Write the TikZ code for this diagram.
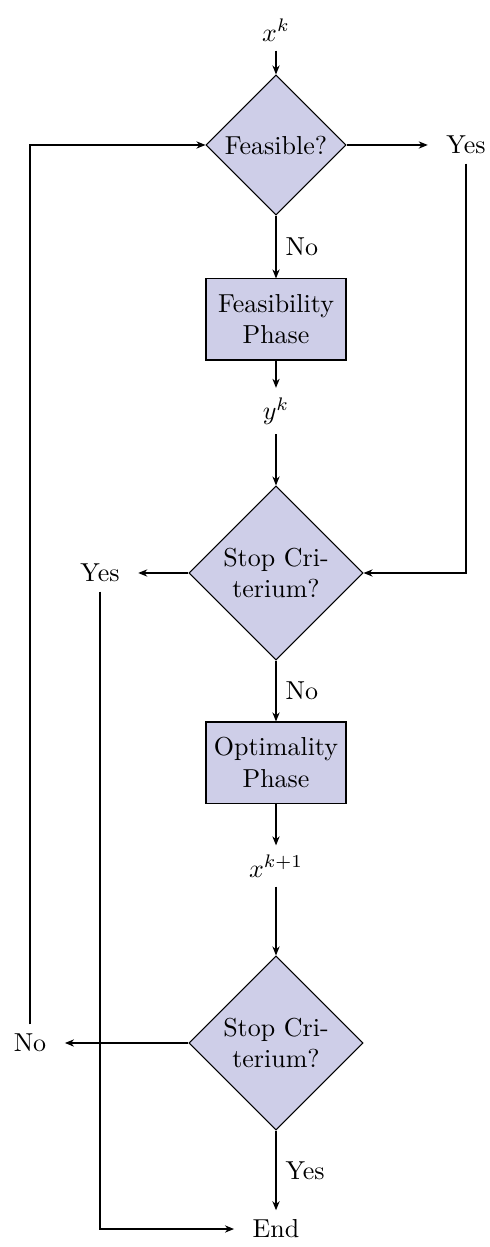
\documentclass[tikz,border=0pt]{standalone}
\usetikzlibrary{shapes.geometric,arrows.meta}
\definecolor{boxfill}{RGB}{206,206,232}
\begin{document}
\begin{tikzpicture}[x=0.385pt,y=-0.385pt,
  lbl/.style={inner xsep=7pt,inner ysep=3.5pt},
  decision/.style={diamond,draw,fill=boxfill,inner sep=0pt,align=center,aspect=1},
  phase/.style={rectangle,draw,fill=boxfill,align=center,minimum width=53.9pt,minimum height=31.2pt,inner sep=0pt},
  arr/.style={-{Stealth[length=3.5pt,width=2.8pt]}},
  edgelbl/.style={right,inner sep=3.5pt}
  ]
\useasboundingbox (0,0) rectangle (489,1247);
\node[lbl] (xk) at (276,30) {$x^k$};
\node[decision,minimum width=53.9pt,minimum height=53.9pt] (d1) at (276,145) {Feasible?};
\node[lbl] (yes1) at (466,145) {Yes};
\node[phase] (box1) at (276,319.5) {Feasibility\\Phase};
\node[lbl] (yk) at (276,411) {$y^k$};
\node[decision,minimum width=67pt,minimum height=67pt] (d2) at (276,573) {Stop Cri-\\terium?};
\node[lbl] (yes2) at (100,573) {Yes};
\node[phase] (box2) at (276,762.5) {Optimality\\Phase};
\node[lbl] (xk1) at (276,866) {$x^{k+1}$};
\node[decision,minimum width=67pt,minimum height=67pt] (d3) at (276,1043) {Stop Cri-\\terium?};
\node[lbl] (no3) at (30,1043) {No};
\node[lbl] (End) at (276,1229) {End};

\draw[arr] (xk) -- (d1);
\draw[arr] (d1) -- (yes1);
\draw[arr] (d1) -- node[edgelbl] {No} (box1);
\draw[arr] (box1) -- (yk);
\draw[arr] (yk) -- (d2);
\draw[arr] (yes1) |- (d2);
\draw[arr] (d2) -- (yes2);
\draw[arr] (d2) -- node[edgelbl] {No} (box2);
\draw[arr] (box2) -- (xk1);
\draw[arr] (xk1) -- (d3);
\draw[arr] (d3) -- (no3);
\draw[arr] (no3) |- (d1);
\draw[arr] (d3) -- node[edgelbl] {Yes} (End);
\draw[arr] (yes2) |- (End);
\end{tikzpicture}
\end{document}
